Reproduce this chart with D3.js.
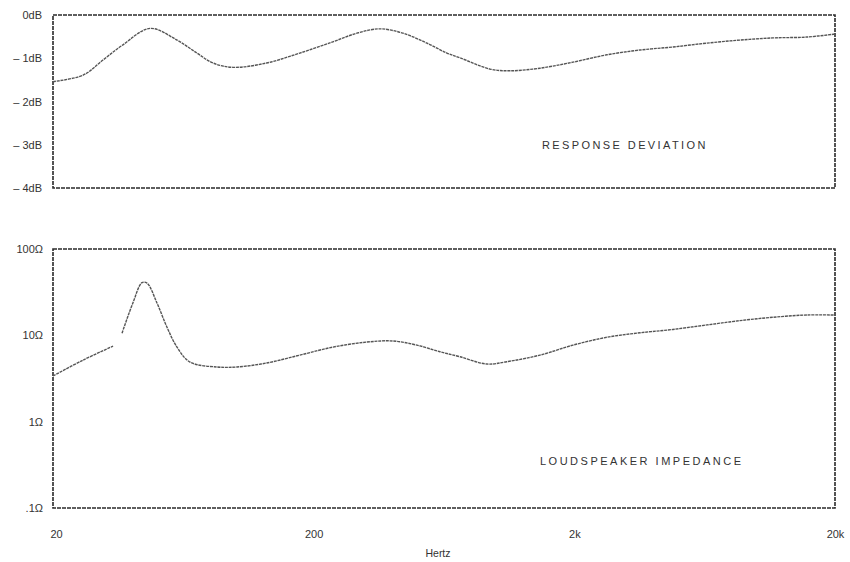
<!DOCTYPE html>
<html><head><meta charset="utf-8">
<script src="https://cdn.jsdelivr.net/npm/d3@7"></script>
<style>
body{margin:0;background:#fff;}
svg{display:block;}
text{font-family:"Liberation Sans",Arial,sans-serif;fill:#333;}
</style></head>
<body><svg id="c" width="850" height="562"></svg>
<script>
// ---- data ----
const respFreq = [20,26.1,31.1,37.1,47.1,59.8,71.3,82.2,98,132,177,237,293,359,440,544,649,728,950,1132,1476,1976,2668,3570,4777,6452,8632,11560,15600,20000];
const respDb   = [-1.54,-1.39,-1.04,-0.69,-0.31,-0.58,-0.88,-1.11,-1.21,-1.11,-0.88,-0.62,-0.42,-0.32,-0.42,-0.65,-0.88,-0.99,-1.25,-1.29,-1.23,-1.09,-0.92,-0.81,-0.74,-0.65,-0.58,-0.53,-0.51,-0.44];
const impFreq  = [20,26.1,34.0,35.4,36.8,40.5,43.9,45.9,50.1,54.7,59.8,67.1,85.1,101.6,132,177,237,320,403,498,610,728,924,1102,1476,1976,2668,3570,4777,6452,8632,11560,15600,20000];
const impOhm   = [3.38,5.17,7.5,null,10.6,23.7,40.7,40.3,23.7,12.5,7.3,4.9,4.3,4.3,4.78,5.9,7.3,8.36,8.6,7.7,6.46,5.65,4.65,4.95,5.9,7.7,9.5,10.7,11.7,13.2,14.8,16.2,17.2,17.2];
const dbTicks = [0,-1,-2,-3,-4];
const dbLabels = ["0dB","– 1dB","– 2dB","– 3dB","– 4dB"];
const ohmTicks = [100,10,1,0.1];
const ohmLabels = ["100Ω","10Ω","1Ω",".1Ω"];
const freqTicks = [20,200,2000,20000];
const freqLabels = ["20","200","2k","20k"];
const topTitle = "RESPONSE DEVIATION";
const botTitle = "LOUDSPEAKER IMPEDANCE";
const xTitle = "Hertz";

// ---- layout ----
const svg = d3.select("#c");
const x = d3.scaleLog().domain([20,20000]).range([53,835]);
const yTop = d3.scaleLinear().domain([0,-4]).range([15,188]);
const yBot = d3.scaleLog().domain([100,0.1]).range([249,508]);
const ink = "#3a3a3a";
const font = "Liberation Sans, Arial, sans-serif";

function frame(y0,y1){
  svg.append("rect").attr("x",53).attr("y",y0).attr("width",835-53).attr("height",y1-y0)
    .attr("fill","none").attr("stroke","#2a2a2a").attr("stroke-width",1.6).attr("stroke-dasharray","4,1");
}
frame(15,188);
frame(249,508);

function styleAxis(g){
  g.select(".domain").remove();
  g.selectAll("text").attr("font-size",11).attr("fill",ink).attr("font-family",font);
}

styleAxis(svg.append("g").attr("transform","translate(42,0)")
  .call(d3.axisLeft(yTop).tickValues(dbTicks).tickSize(0).tickPadding(0)
    .tickFormat((d,i)=>dbLabels[i])));

styleAxis(svg.append("g").attr("transform","translate(43,0)")
  .call(d3.axisLeft(yBot).tickValues(ohmTicks).tickSize(0).tickPadding(0)
    .tickFormat((d,i)=>ohmLabels[i])));

const gx = svg.append("g").attr("transform","translate(0,530)")
  .call(d3.axisBottom(x).tickValues(freqTicks).tickSize(0).tickPadding(0)
    .tickFormat((d,i)=>freqLabels[i]));
styleAxis(gx);
gx.selectAll(".tick").filter((d,i)=>i===0).select("text").attr("dx",3);

svg.append("text").attr("x",438).attr("y",557).attr("text-anchor","middle")
  .attr("font-size",10.5).attr("fill",ink).text(xTitle);

svg.append("text").attr("x",542).attr("y",149).attr("font-size",11)
  .attr("letter-spacing",2.4).attr("fill",ink).text(topTitle);
svg.append("text").attr("x",540).attr("y",465).attr("font-size",11)
  .attr("letter-spacing",2.5).attr("fill",ink).text(botTitle);

// curves
const respData = respFreq.map((f,i)=>({f,v:respDb[i]}));
const impData = impFreq.map((f,i)=>({f,v:impOhm[i]}));
const lineTop = d3.line().x(d=>x(d.f)).y(d=>yTop(d.v)).curve(d3.curveCatmullRom.alpha(0.5));
const lineBot = d3.line().defined(d=>d.v!==null).x(d=>x(d.f)).y(d=>yBot(d.v)).curve(d3.curveCatmullRom.alpha(0.5));
svg.append("path").datum(respData).attr("d",lineTop).attr("fill","none")
  .attr("stroke","#555").attr("stroke-width",1.4).attr("stroke-dasharray","3,0.8");
svg.append("path").datum(impData).attr("d",lineBot).attr("fill","none")
  .attr("stroke","#555").attr("stroke-width",1.4).attr("stroke-dasharray","3,0.8");
</script></body></html>
